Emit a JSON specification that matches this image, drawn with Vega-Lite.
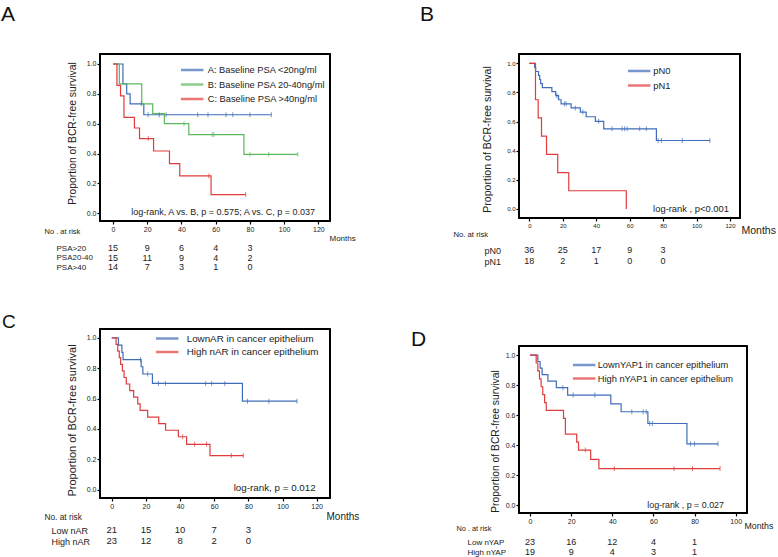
{
"$schema": "https://vega.github.io/schema/vega-lite/v6.json",
"background": "white",
"padding": {"left": 0, "top": 3, "right": 0, "bottom": 0},
"config": {
  "font": "Liberation Sans",
  "view": {"stroke": "#000", "strokeWidth": 1.5},
  "axis": {"grid": false, "domain": false, "tickColor": "#000", "tickWidth": 1.2, "labelColor": "#222", "titleColor": "#222", "titleFontWeight": "normal", "labelFlush": false, "labelOverlap": false, "tickCount": 20},
  "title": {"color": "#111", "fontWeight": "normal", "font": "Liberation Sans"},
  "legend": {"orient": "none", "title": null, "symbolType": "M-1,0H5", "symbolSize": 56, "symbolStrokeWidth": 2.5, "labelColor": "#222"},
  "text": {"color": "#222"}
},
"datasets": {
  "A": [
    {"g":"A: Baseline PSA <20ng/ml","t":0,"s":1,"c":0},
    {"g":"A: Baseline PSA <20ng/ml","t":5.8,"s":0.867,"c":0},
    {"g":"A: Baseline PSA <20ng/ml","t":8,"s":0.8,"c":0},
    {"g":"A: Baseline PSA <20ng/ml","t":10,"s":0.733,"c":0},
    {"g":"A: Baseline PSA <20ng/ml","t":16.5,"s":0.733,"c":1},
    {"g":"A: Baseline PSA <20ng/ml","t":18,"s":0.66,"c":0},
    {"g":"A: Baseline PSA <20ng/ml","t":20.5,"s":0.66,"c":1},
    {"g":"A: Baseline PSA <20ng/ml","t":27,"s":0.66,"c":1},
    {"g":"A: Baseline PSA <20ng/ml","t":31,"s":0.66,"c":1},
    {"g":"A: Baseline PSA <20ng/ml","t":49.5,"s":0.66,"c":1},
    {"g":"A: Baseline PSA <20ng/ml","t":55.5,"s":0.66,"c":1},
    {"g":"A: Baseline PSA <20ng/ml","t":66,"s":0.66,"c":1},
    {"g":"A: Baseline PSA <20ng/ml","t":70,"s":0.66,"c":1},
    {"g":"A: Baseline PSA <20ng/ml","t":80,"s":0.66,"c":1},
    {"g":"A: Baseline PSA <20ng/ml","t":92.5,"s":0.66,"c":1},
    {"g":"B: Baseline PSA 20-40ng/ml","t":0,"s":1,"c":0},
    {"g":"B: Baseline PSA 20-40ng/ml","t":3.7,"s":0.867,"c":0},
    {"g":"B: Baseline PSA 20-40ng/ml","t":16.8,"s":0.733,"c":0},
    {"g":"B: Baseline PSA 20-40ng/ml","t":23.2,"s":0.667,"c":0},
    {"g":"B: Baseline PSA 20-40ng/ml","t":30,"s":0.6,"c":0},
    {"g":"B: Baseline PSA 20-40ng/ml","t":41.5,"s":0.6,"c":1},
    {"g":"B: Baseline PSA 20-40ng/ml","t":44.3,"s":0.527,"c":0},
    {"g":"B: Baseline PSA 20-40ng/ml","t":58,"s":0.527,"c":1},
    {"g":"B: Baseline PSA 20-40ng/ml","t":59,"s":0.527,"c":1},
    {"g":"B: Baseline PSA 20-40ng/ml","t":76.5,"s":0.395,"c":0},
    {"g":"B: Baseline PSA 20-40ng/ml","t":80,"s":0.395,"c":1},
    {"g":"B: Baseline PSA 20-40ng/ml","t":91,"s":0.395,"c":1},
    {"g":"B: Baseline PSA 20-40ng/ml","t":108,"s":0.395,"c":1},
    {"g":"C: Baseline PSA >40ng/ml","t":0,"s":1,"c":0},
    {"g":"C: Baseline PSA >40ng/ml","t":2.3,"s":0.857,"c":0},
    {"g":"C: Baseline PSA >40ng/ml","t":4.4,"s":0.786,"c":0},
    {"g":"C: Baseline PSA >40ng/ml","t":6.4,"s":0.643,"c":0},
    {"g":"C: Baseline PSA >40ng/ml","t":12.5,"s":0.571,"c":0},
    {"g":"C: Baseline PSA >40ng/ml","t":15.5,"s":0.5,"c":0},
    {"g":"C: Baseline PSA >40ng/ml","t":20.6,"s":0.5,"c":1},
    {"g":"C: Baseline PSA >40ng/ml","t":23.7,"s":0.417,"c":0},
    {"g":"C: Baseline PSA >40ng/ml","t":33,"s":0.333,"c":0},
    {"g":"C: Baseline PSA >40ng/ml","t":39,"s":0.25,"c":0},
    {"g":"C: Baseline PSA >40ng/ml","t":56,"s":0.25,"c":1},
    {"g":"C: Baseline PSA >40ng/ml","t":57.3,"s":0.125,"c":0},
    {"g":"C: Baseline PSA >40ng/ml","t":77.5,"s":0.125,"c":1}
  ],
  "B": [
    {"g":"pN0","t":0,"s":1,"c":0},
    {"g":"pN0","t":3.2,"s":0.972,"c":0},
    {"g":"pN0","t":3.8,"s":0.944,"c":0},
    {"g":"pN0","t":5.5,"s":0.917,"c":0},
    {"g":"pN0","t":6.2,"s":0.889,"c":0},
    {"g":"pN0","t":6.8,"s":0.861,"c":0},
    {"g":"pN0","t":7.8,"s":0.833,"c":0},
    {"g":"pN0","t":13.5,"s":0.806,"c":0},
    {"g":"pN0","t":15.8,"s":0.778,"c":0},
    {"g":"pN0","t":16.5,"s":0.778,"c":1},
    {"g":"pN0","t":17.5,"s":0.75,"c":0},
    {"g":"pN0","t":19,"s":0.722,"c":0},
    {"g":"pN0","t":21,"s":0.722,"c":1},
    {"g":"pN0","t":22,"s":0.722,"c":1},
    {"g":"pN0","t":25,"s":0.694,"c":0},
    {"g":"pN0","t":27.5,"s":0.694,"c":1},
    {"g":"pN0","t":30.5,"s":0.665,"c":0},
    {"g":"pN0","t":32,"s":0.665,"c":1},
    {"g":"pN0","t":34,"s":0.633,"c":0},
    {"g":"pN0","t":39.5,"s":0.602,"c":0},
    {"g":"pN0","t":41.5,"s":0.602,"c":1},
    {"g":"pN0","t":44.5,"s":0.55,"c":0},
    {"g":"pN0","t":49.5,"s":0.55,"c":1},
    {"g":"pN0","t":55.5,"s":0.55,"c":1},
    {"g":"pN0","t":57,"s":0.55,"c":1},
    {"g":"pN0","t":58.5,"s":0.55,"c":1},
    {"g":"pN0","t":66,"s":0.55,"c":1},
    {"g":"pN0","t":70,"s":0.55,"c":1},
    {"g":"pN0","t":76,"s":0.47,"c":0},
    {"g":"pN0","t":77,"s":0.47,"c":1},
    {"g":"pN0","t":79,"s":0.47,"c":1},
    {"g":"pN0","t":91.5,"s":0.47,"c":1},
    {"g":"pN0","t":108,"s":0.47,"c":1},
    {"g":"pN1","t":0,"s":1,"c":0},
    {"g":"pN1","t":3.7,"s":0.75,"c":0},
    {"g":"pN1","t":5.3,"s":0.625,"c":0},
    {"g":"pN1","t":7.3,"s":0.5,"c":0},
    {"g":"pN1","t":10.3,"s":0.375,"c":0},
    {"g":"pN1","t":17,"s":0.25,"c":0},
    {"g":"pN1","t":23.6,"s":0.125,"c":0},
    {"g":"pN1","t":58,"s":0,"c":0}
  ],
  "C": [
    {"g":"LownAR in cancer epithelium","t":0,"s":1,"c":0},
    {"g":"LownAR in cancer epithelium","t":3.9,"s":0.952,"c":0},
    {"g":"LownAR in cancer epithelium","t":5.9,"s":0.905,"c":0},
    {"g":"LownAR in cancer epithelium","t":6.6,"s":0.857,"c":0},
    {"g":"LownAR in cancer epithelium","t":16.8,"s":0.857,"c":1},
    {"g":"LownAR in cancer epithelium","t":17.2,"s":0.81,"c":0},
    {"g":"LownAR in cancer epithelium","t":18.2,"s":0.762,"c":0},
    {"g":"LownAR in cancer epithelium","t":21,"s":0.762,"c":1},
    {"g":"LownAR in cancer epithelium","t":23.8,"s":0.7,"c":0},
    {"g":"LownAR in cancer epithelium","t":27.3,"s":0.7,"c":1},
    {"g":"LownAR in cancer epithelium","t":31.4,"s":0.7,"c":1},
    {"g":"LownAR in cancer epithelium","t":55,"s":0.7,"c":1},
    {"g":"LownAR in cancer epithelium","t":58.5,"s":0.7,"c":1},
    {"g":"LownAR in cancer epithelium","t":66.2,"s":0.7,"c":1},
    {"g":"LownAR in cancer epithelium","t":76.5,"s":0.583,"c":0},
    {"g":"LownAR in cancer epithelium","t":79.5,"s":0.583,"c":1},
    {"g":"LownAR in cancer epithelium","t":92,"s":0.583,"c":1},
    {"g":"LownAR in cancer epithelium","t":108.5,"s":0.583,"c":1},
    {"g":"High nAR in cancer epithelium","t":0,"s":1,"c":0},
    {"g":"High nAR in cancer epithelium","t":2.5,"s":0.957,"c":0},
    {"g":"High nAR in cancer epithelium","t":3.5,"s":0.913,"c":0},
    {"g":"High nAR in cancer epithelium","t":4.4,"s":0.87,"c":0},
    {"g":"High nAR in cancer epithelium","t":5.2,"s":0.826,"c":0},
    {"g":"High nAR in cancer epithelium","t":6.2,"s":0.783,"c":0},
    {"g":"High nAR in cancer epithelium","t":7.2,"s":0.739,"c":0},
    {"g":"High nAR in cancer epithelium","t":8.5,"s":0.696,"c":0},
    {"g":"High nAR in cancer epithelium","t":10.5,"s":0.652,"c":0},
    {"g":"High nAR in cancer epithelium","t":12.8,"s":0.609,"c":0},
    {"g":"High nAR in cancer epithelium","t":15.2,"s":0.565,"c":0},
    {"g":"High nAR in cancer epithelium","t":16.6,"s":0.522,"c":0},
    {"g":"High nAR in cancer epithelium","t":21,"s":0.478,"c":0},
    {"g":"High nAR in cancer epithelium","t":27.5,"s":0.435,"c":0},
    {"g":"High nAR in cancer epithelium","t":31.5,"s":0.391,"c":0},
    {"g":"High nAR in cancer epithelium","t":39,"s":0.348,"c":0},
    {"g":"High nAR in cancer epithelium","t":41.5,"s":0.348,"c":1},
    {"g":"High nAR in cancer epithelium","t":43.8,"s":0.298,"c":0},
    {"g":"High nAR in cancer epithelium","t":48.5,"s":0.298,"c":1},
    {"g":"High nAR in cancer epithelium","t":55.5,"s":0.298,"c":1},
    {"g":"High nAR in cancer epithelium","t":57.5,"s":0.224,"c":0},
    {"g":"High nAR in cancer epithelium","t":70,"s":0.224,"c":1},
    {"g":"High nAR in cancer epithelium","t":77,"s":0.224,"c":1}
  ],
  "D": [
    {"g":"LownYAP1 in cancer epithelium","t":0,"s":1,"c":0},
    {"g":"LownYAP1 in cancer epithelium","t":3.8,"s":0.957,"c":0},
    {"g":"LownYAP1 in cancer epithelium","t":4.9,"s":0.913,"c":0},
    {"g":"LownYAP1 in cancer epithelium","t":5.9,"s":0.87,"c":0},
    {"g":"LownYAP1 in cancer epithelium","t":8.7,"s":0.826,"c":0},
    {"g":"LownYAP1 in cancer epithelium","t":12.8,"s":0.783,"c":0},
    {"g":"LownYAP1 in cancer epithelium","t":16,"s":0.783,"c":1},
    {"g":"LownYAP1 in cancer epithelium","t":18.3,"s":0.734,"c":0},
    {"g":"LownYAP1 in cancer epithelium","t":21,"s":0.734,"c":1},
    {"g":"LownYAP1 in cancer epithelium","t":31.5,"s":0.734,"c":1},
    {"g":"LownYAP1 in cancer epithelium","t":39.3,"s":0.675,"c":0},
    {"g":"LownYAP1 in cancer epithelium","t":44.3,"s":0.623,"c":0},
    {"g":"LownYAP1 in cancer epithelium","t":49.5,"s":0.623,"c":1},
    {"g":"LownYAP1 in cancer epithelium","t":55,"s":0.623,"c":1},
    {"g":"LownYAP1 in cancer epithelium","t":56.5,"s":0.623,"c":1},
    {"g":"LownYAP1 in cancer epithelium","t":57.3,"s":0.545,"c":0},
    {"g":"LownYAP1 in cancer epithelium","t":58.2,"s":0.545,"c":1},
    {"g":"LownYAP1 in cancer epithelium","t":59.5,"s":0.545,"c":1},
    {"g":"LownYAP1 in cancer epithelium","t":76.3,"s":0.41,"c":0},
    {"g":"LownYAP1 in cancer epithelium","t":78,"s":0.41,"c":1},
    {"g":"LownYAP1 in cancer epithelium","t":80,"s":0.41,"c":1},
    {"g":"LownYAP1 in cancer epithelium","t":91.4,"s":0.41,"c":1},
    {"g":"High nYAP1 in cancer epithelium","t":0,"s":1,"c":0},
    {"g":"High nYAP1 in cancer epithelium","t":3,"s":0.947,"c":0},
    {"g":"High nYAP1 in cancer epithelium","t":3.8,"s":0.895,"c":0},
    {"g":"High nYAP1 in cancer epithelium","t":4.6,"s":0.842,"c":0},
    {"g":"High nYAP1 in cancer epithelium","t":5.4,"s":0.789,"c":0},
    {"g":"High nYAP1 in cancer epithelium","t":6.2,"s":0.737,"c":0},
    {"g":"High nYAP1 in cancer epithelium","t":7.1,"s":0.684,"c":0},
    {"g":"High nYAP1 in cancer epithelium","t":7.9,"s":0.632,"c":0},
    {"g":"High nYAP1 in cancer epithelium","t":16.3,"s":0.579,"c":0},
    {"g":"High nYAP1 in cancer epithelium","t":17.2,"s":0.474,"c":0},
    {"g":"High nYAP1 in cancer epithelium","t":22.7,"s":0.421,"c":0},
    {"g":"High nYAP1 in cancer epithelium","t":23.6,"s":0.368,"c":0},
    {"g":"High nYAP1 in cancer epithelium","t":26.9,"s":0.368,"c":1},
    {"g":"High nYAP1 in cancer epithelium","t":29.5,"s":0.307,"c":0},
    {"g":"High nYAP1 in cancer epithelium","t":33.5,"s":0.245,"c":0},
    {"g":"High nYAP1 in cancer epithelium","t":41,"s":0.245,"c":1},
    {"g":"High nYAP1 in cancer epithelium","t":70,"s":0.245,"c":1},
    {"g":"High nYAP1 in cancer epithelium","t":79,"s":0.245,"c":1},
    {"g":"High nYAP1 in cancer epithelium","t":92.4,"s":0.245,"c":1}
  ],
  "Ar": [
    {"g":"PSA>20","t":0,"n":15},{"g":"PSA>20","t":20,"n":9},{"g":"PSA>20","t":40,"n":6},{"g":"PSA>20","t":60,"n":4},{"g":"PSA>20","t":80,"n":3},
    {"g":"PSA20-40","t":0,"n":15},{"g":"PSA20-40","t":20,"n":11},{"g":"PSA20-40","t":40,"n":9},{"g":"PSA20-40","t":60,"n":4},{"g":"PSA20-40","t":80,"n":2},
    {"g":"PSA>40","t":0,"n":14},{"g":"PSA>40","t":20,"n":7},{"g":"PSA>40","t":40,"n":3},{"g":"PSA>40","t":60,"n":1},{"g":"PSA>40","t":80,"n":0}
  ],
  "Br": [
    {"g":"pN0","t":0,"n":36},{"g":"pN0","t":20,"n":25},{"g":"pN0","t":40,"n":17},{"g":"pN0","t":60,"n":9},{"g":"pN0","t":80,"n":3},
    {"g":"pN1","t":0,"n":18},{"g":"pN1","t":20,"n":2},{"g":"pN1","t":40,"n":1},{"g":"pN1","t":60,"n":0},{"g":"pN1","t":80,"n":0}
  ],
  "Cr": [
    {"g":"Low nAR","t":0,"n":21},{"g":"Low nAR","t":20,"n":15},{"g":"Low nAR","t":40,"n":10},{"g":"Low nAR","t":60,"n":7},{"g":"Low nAR","t":80,"n":3},
    {"g":"High nAR","t":0,"n":23},{"g":"High nAR","t":20,"n":12},{"g":"High nAR","t":40,"n":8},{"g":"High nAR","t":60,"n":2},{"g":"High nAR","t":80,"n":0}
  ],
  "Dr": [
    {"g":"Low nYAP","t":0,"n":23},{"g":"Low nYAP","t":20,"n":16},{"g":"Low nYAP","t":40,"n":12},{"g":"Low nYAP","t":60,"n":4},{"g":"Low nYAP","t":80,"n":1},
    {"g":"High nYAP","t":0,"n":19},{"g":"High nYAP","t":20,"n":9},{"g":"High nYAP","t":40,"n":4},{"g":"High nYAP","t":60,"n":3},{"g":"High nYAP","t":80,"n":1}
  ]
},
"spacing": 50,
"resolve": {"scale": {"x": "independent", "y": "independent", "color": "independent"}},
"hconcat": [
  {
    "spacing": 0, "bounds": "flush",
    "resolve": {"scale": {"x": "independent", "y": "independent", "color": "independent"}},
    "vconcat": [
      {
        "width": 230, "height": 167,
        "view": {"stroke": "#000", "strokeWidth": 1.5},
        "title": {"text": "A", "anchor": "start", "frame": "group", "fontSize": 21, "baseline": "alphabetic", "offset": 11, "dx": -99},
        "data": {"name": "A"},
        "layer": [
          {"data": {"values": [{"f": 1}]}, "mark": {"type": "tick", "orient": "vertical", "size": 168, "thickness": 2, "color": "#000", "opacity": 1},
           "encoding": {"x": {"datum": -7.6}, "y": {"datum": 0.5075}}},
          {"data": {"values": [{"f": 1}]}, "mark": {"type": "tick", "orient": "vertical", "size": 168, "thickness": 2, "color": "#000", "opacity": 1},
           "encoding": {"x": {"datum": 126.8}, "y": {"datum": 0.5075}}},
          {"data": {"values": [{"f": 1}]}, "mark": {"type": "tick", "orient": "horizontal", "size": 231, "thickness": 2, "color": "#000", "opacity": 1},
           "encoding": {"x": {"datum": 59.6}, "y": {"datum": -0.052}}},
          {"data": {"values": [{"f": 1}]}, "mark": {"type": "tick", "orient": "horizontal", "size": 231, "thickness": 2, "color": "#000", "opacity": 1},
           "encoding": {"x": {"datum": 59.6}, "y": {"datum": 1.067}}},
          {"mark": {"type": "line", "interpolate": "step-after", "strokeWidth": 1.2},
           "encoding": {
             "x": {"field": "t", "type": "quantitative", "scale": {"domain": [-7.6, 126.8], "nice": false, "zero": false},
                   "axis": {"values": [0,20,40,60,80,100,120], "tickCount": 20, "labelOverlap": false, "labelFontSize": 7, "tickSize": 3, "labelPadding": 1, "title": "Months", "titleFontSize": 8, "titleAlign": "left", "titleBaseline": "middle", "titleAngle": 0, "titleX": 229, "titleY": 17}},
             "y": {"field": "s", "type": "quantitative", "scale": {"domain": [-0.052, 1.067], "nice": false, "zero": false},
                   "axis": {"values": [0,0.2,0.4,0.6,0.8,1], "tickCount": 20, "labelOverlap": false, "format": ".1f", "labelFontSize": 7, "tickSize": 3, "labelPadding": 1, "title": "Proportion of BCR-free survival", "titleFontSize": 10.3, "titleAlign": "center", "titleBaseline": "middle", "titleAngle": 270, "titleX": -28, "titleY": 79}},
             "color": {"field": "g", "type": "nominal",
                       "scale": {"domain": ["A: Baseline PSA <20ng/ml", "B: Baseline PSA 20-40ng/ml", "C: Baseline PSA >40ng/ml"], "range": ["#3f6db8", "#5cb85c", "#e03c3c"]},
                       "legend": {"legendX": 79.7, "legendY": 11, "labelFontSize": 9.3, "labelOffset": 18, "rowPadding": 3.5}}
           }},
          {"transform": [{"filter": "datum.c == 1"}],
           "mark": {"type": "tick", "orient": "vertical", "size": 5, "thickness": 1},
           "encoding": {
             "x": {"field": "t", "type": "quantitative"},
             "y": {"field": "s", "type": "quantitative"},
             "color": {"field": "g", "type": "nominal"}
           }},
          {"data": {"values": [{"label": "log-rank, A vs. B, p = 0.575; A vs. C, p = 0.037"}]},
           "mark": {"type": "text", "align": "right", "baseline": "middle", "fontSize": 9},
           "encoding": {"x": {"datum": 118}, "y": {"datum": 0.011}, "text": {"field": "label"}}}
        ]
      },
      {
        "width": 230, "height": 108, "view": {"stroke": null},
        "data": {"name": "Ar"},
        "mark": {"type": "text", "fontSize": 9},
        "encoding": {
          "x": {"field": "t", "type": "quantitative", "scale": {"domain": [-7.6, 126.8], "nice": false, "zero": false}, "axis": null},
          "y": {"field": "g", "type": "nominal", "sort": ["PSA>20", "PSA20-40", "PSA>40"], "scale": {"type": "point", "range": [27, 46], "padding": 0},
                "axis": {"title": "No . at risk", "titleAngle": 0, "titleX": -56, "titleY": 10, "titleAlign": "left", "titleBaseline": "middle", "titleFontSize": 7.5, "labelAlign": "left", "labelPadding": 44, "labelFontSize": 8, "ticks": false, "domain": false}},
          "text": {"field": "n", "type": "quantitative"}
        }
      },
      {
        "width": 230, "height": 169,
        "view": {"stroke": "#000", "strokeWidth": 1.5},
        "title": {"text": "C", "anchor": "start", "frame": "group", "fontSize": 19, "baseline": "alphabetic", "offset": -19, "dx": -98},
        "data": {"name": "C"},
        "layer": [
          {"data": {"values": [{"f": 1}]}, "mark": {"type": "tick", "orient": "vertical", "size": 170, "thickness": 2, "color": "#000", "opacity": 1},
           "encoding": {"x": {"datum": -6.9}, "y": {"datum": 0.5015}}},
          {"data": {"values": [{"f": 1}]}, "mark": {"type": "tick", "orient": "vertical", "size": 170, "thickness": 2, "color": "#000", "opacity": 1},
           "encoding": {"x": {"datum": 127.8}, "y": {"datum": 0.5015}}},
          {"data": {"values": [{"f": 1}]}, "mark": {"type": "tick", "orient": "horizontal", "size": 231, "thickness": 2, "color": "#000", "opacity": 1},
           "encoding": {"x": {"datum": 60.45}, "y": {"datum": -0.056}}},
          {"data": {"values": [{"f": 1}]}, "mark": {"type": "tick", "orient": "horizontal", "size": 231, "thickness": 2, "color": "#000", "opacity": 1},
           "encoding": {"x": {"datum": 60.45}, "y": {"datum": 1.059}}},
          {"mark": {"type": "line", "interpolate": "step-after", "strokeWidth": 1.2},
           "encoding": {
             "x": {"field": "t", "type": "quantitative", "scale": {"domain": [-6.9, 127.8], "nice": false, "zero": false},
                   "axis": {"values": [0,20,40,60,80,100,120], "tickCount": 20, "labelOverlap": false, "labelFontSize": 7, "tickSize": 3, "labelPadding": 1, "title": "Months", "titleFontSize": 10, "titleAlign": "left", "titleBaseline": "middle", "titleAngle": 0, "titleX": 226, "titleY": 18}},
             "y": {"field": "s", "type": "quantitative", "scale": {"domain": [-0.056, 1.059], "nice": false, "zero": false},
                   "axis": {"values": [0,0.2,0.4,0.6,0.8,1], "tickCount": 20, "labelOverlap": false, "format": ".1f", "labelFontSize": 7, "tickSize": 3, "labelPadding": 1, "title": "Proportion of BCR-free survival", "titleFontSize": 11, "titleAlign": "center", "titleBaseline": "middle", "titleAngle": 270, "titleX": -28, "titleY": 91}},
             "color": {"field": "g", "type": "nominal",
                       "scale": {"domain": ["LownAR in cancer epithelium", "High nAR in cancer epithelium"], "range": ["#3f6db8", "#e03c3c"]},
                       "legend": {"legendX": 54.7, "legendY": 4.5, "labelFontSize": 9.8, "labelOffset": 22, "rowPadding": 3.5}}
           }},
          {"transform": [{"filter": "datum.c == 1"}],
           "mark": {"type": "tick", "orient": "vertical", "size": 5, "thickness": 1},
           "encoding": {
             "x": {"field": "t", "type": "quantitative"},
             "y": {"field": "s", "type": "quantitative"},
             "color": {"field": "g", "type": "nominal"}
           }},
          {"data": {"values": [{"label": "log-rank, p = 0.012"}]},
           "mark": {"type": "text", "align": "right", "baseline": "middle", "fontSize": 9.8},
           "encoding": {"x": {"datum": 119.4}, "y": {"datum": 0.007}, "text": {"field": "label"}}}
        ]
      },
      {
        "width": 230, "height": 50, "view": {"stroke": null},
        "data": {"name": "Cr"},
        "mark": {"type": "text", "fontSize": 9.5},
        "encoding": {
          "x": {"field": "t", "type": "quantitative", "scale": {"domain": [-6.9, 127.8], "nice": false, "zero": false}, "axis": null},
          "y": {"field": "g", "type": "nominal", "sort": ["Low nAR", "High nAR"], "scale": {"type": "point", "range": [32, 43], "padding": 0},
                "axis": {"title": "No. at risk", "titleAngle": 0, "titleX": -56, "titleY": 19.7, "titleAlign": "left", "titleBaseline": "middle", "titleFontSize": 8.3, "labelAlign": "left", "labelPadding": 49, "labelFontSize": 9, "ticks": false, "domain": false}},
          "text": {"field": "n", "type": "quantitative"}
        }
      }
    ]
  },
  {
    "spacing": 0, "bounds": "flush",
    "resolve": {"scale": {"x": "independent", "y": "independent", "color": "independent"}},
    "vconcat": [
      {
        "width": 221, "height": 164,
        "view": {"stroke": "#000", "strokeWidth": 1.5},
        "title": {"text": "B", "anchor": "start", "frame": "group", "fontSize": 21, "baseline": "alphabetic", "offset": 11, "dx": -99},
        "data": {"name": "B"},
        "layer": [
          {"data": {"values": [{"f": 1}]}, "mark": {"type": "tick", "orient": "vertical", "size": 165, "thickness": 2, "color": "#000", "opacity": 1},
           "encoding": {"x": {"datum": -6.16}, "y": {"datum": 0.501}}},
          {"data": {"values": [{"f": 1}]}, "mark": {"type": "tick", "orient": "vertical", "size": 165, "thickness": 2, "color": "#000", "opacity": 1},
           "encoding": {"x": {"datum": 126.0}, "y": {"datum": 0.501}}},
          {"data": {"values": [{"f": 1}]}, "mark": {"type": "tick", "orient": "horizontal", "size": 222, "thickness": 2, "color": "#000", "opacity": 1},
           "encoding": {"x": {"datum": 59.92}, "y": {"datum": -0.062}}},
          {"data": {"values": [{"f": 1}]}, "mark": {"type": "tick", "orient": "horizontal", "size": 222, "thickness": 2, "color": "#000", "opacity": 1},
           "encoding": {"x": {"datum": 59.92}, "y": {"datum": 1.064}}},
          {"mark": {"type": "line", "interpolate": "step-after", "strokeWidth": 1.2},
           "encoding": {
             "x": {"field": "t", "type": "quantitative", "scale": {"domain": [-6.16, 126.0], "nice": false, "zero": false},
                   "axis": {"values": [0,20,40,60,80,100,120], "tickCount": 20, "labelOverlap": false, "labelFontSize": 6, "tickSize": 3, "labelPadding": 1, "title": "Months", "titleFontSize": 10.5, "titleAlign": "left", "titleBaseline": "middle", "titleAngle": 0, "titleX": 222, "titleY": 12}},
             "y": {"field": "s", "type": "quantitative", "scale": {"domain": [-0.062, 1.064], "nice": false, "zero": false},
                   "axis": {"values": [0,0.2,0.4,0.6,0.8,1], "tickCount": 20, "labelOverlap": false, "format": ".1f", "labelFontSize": 6, "tickSize": 3, "labelPadding": 1, "title": "Proportion of BCR-free survival", "titleFontSize": 10.6, "titleAlign": "center", "titleBaseline": "middle", "titleAngle": 270, "titleX": -31.3, "titleY": 85}},
             "color": {"field": "g", "type": "nominal",
                       "scale": {"domain": ["pN0", "pN1"], "range": ["#3f6db8", "#e03c3c"]},
                       "legend": {"legendX": 107.7, "legendY": 12, "labelFontSize": 9.4, "labelOffset": 16.5, "rowPadding": 4.5}}
           }},
          {"transform": [{"filter": "datum.c == 1"}],
           "mark": {"type": "tick", "orient": "vertical", "size": 5, "thickness": 1},
           "encoding": {
             "x": {"field": "t", "type": "quantitative"},
             "y": {"field": "s", "type": "quantitative"},
             "color": {"field": "g", "type": "nominal"}
           }},
          {"data": {"values": [{"label": "log-rank , p<0.001"}]},
           "mark": {"type": "text", "align": "right", "baseline": "middle", "fontSize": 9.4},
           "encoding": {"x": {"datum": 119.4}, "y": {"datum": 0.0}, "text": {"field": "label"}}}
        ]
      },
      {
        "width": 221, "height": 128, "view": {"stroke": null},
        "data": {"name": "Br"},
        "mark": {"type": "text", "fontSize": 9},
        "encoding": {
          "x": {"field": "t", "type": "quantitative", "scale": {"domain": [-6.16, 126.0], "nice": false, "zero": false}, "axis": null},
          "y": {"field": "g", "type": "nominal", "sort": ["pN0", "pN1"], "scale": {"type": "point", "range": [32, 43], "padding": 0},
                "axis": {"title": "No. at risk", "titleAngle": 0, "titleX": -66, "titleY": 16, "titleAlign": "left", "titleBaseline": "middle", "titleFontSize": 7.7, "labelAlign": "left", "labelPadding": 35, "labelFontSize": 9, "ticks": false, "domain": false}},
          "text": {"field": "n", "type": "quantitative"}
        }
      },
      {
        "width": 228, "height": 167,
        "view": {"stroke": "#000", "strokeWidth": 1.5},
        "title": {"text": "D", "anchor": "start", "frame": "group", "fontSize": 21, "baseline": "alphabetic", "offset": -22, "dx": -108},
        "data": {"name": "D"},
        "layer": [
          {"data": {"values": [{"f": 1}]}, "mark": {"type": "tick", "orient": "vertical", "size": 168, "thickness": 2, "color": "#000", "opacity": 1},
           "encoding": {"x": {"datum": -5.35}, "y": {"datum": 0.505}}},
          {"data": {"values": [{"f": 1}]}, "mark": {"type": "tick", "orient": "vertical", "size": 168, "thickness": 2, "color": "#000", "opacity": 1},
           "encoding": {"x": {"datum": 105.5}, "y": {"datum": 0.505}}},
          {"data": {"values": [{"f": 1}]}, "mark": {"type": "tick", "orient": "horizontal", "size": 229, "thickness": 2, "color": "#000", "opacity": 1},
           "encoding": {"x": {"datum": 50.075}, "y": {"datum": -0.05}}},
          {"data": {"values": [{"f": 1}]}, "mark": {"type": "tick", "orient": "horizontal", "size": 229, "thickness": 2, "color": "#000", "opacity": 1},
           "encoding": {"x": {"datum": 50.075}, "y": {"datum": 1.06}}},
          {"mark": {"type": "line", "interpolate": "step-after", "strokeWidth": 1.2},
           "encoding": {
             "x": {"field": "t", "type": "quantitative", "scale": {"domain": [-5.35, 105.5], "nice": false, "zero": false},
                   "axis": {"values": [0,20,40,60,80,100], "tickCount": 20, "labelOverlap": false, "labelFontSize": 7, "tickSize": 3, "labelPadding": 1, "title": "Months", "titleFontSize": 8.8, "titleAlign": "left", "titleBaseline": "middle", "titleAngle": 0, "titleX": 225, "titleY": 12}},
             "y": {"field": "s", "type": "quantitative", "scale": {"domain": [-0.05, 1.06], "nice": false, "zero": false},
                   "axis": {"values": [0,0.2,0.4,0.6,0.8,1], "tickCount": 20, "labelOverlap": false, "format": ".1f", "labelFontSize": 7, "tickSize": 3, "labelPadding": 1, "title": "Proportion of BCR-free survival", "titleFontSize": 10.3, "titleAlign": "center", "titleBaseline": "middle", "titleAngle": 270, "titleX": -24, "titleY": 95}},
             "color": {"field": "g", "type": "nominal",
                       "scale": {"domain": ["LownYAP1 in cancer epithelium", "High nYAP1 in cancer epithelium"], "range": ["#3f6db8", "#e03c3c"]},
                       "legend": {"legendX": 52.7, "legendY": 14, "labelFontSize": 9.3, "labelOffset": 16, "rowPadding": 2.5}}
           }},
          {"transform": [{"filter": "datum.c == 1"}],
           "mark": {"type": "tick", "orient": "vertical", "size": 5, "thickness": 1},
           "encoding": {
             "x": {"field": "t", "type": "quantitative"},
             "y": {"field": "s", "type": "quantitative"},
             "color": {"field": "g", "type": "nominal"}
           }},
          {"data": {"values": [{"label": "log-rank , p = 0.027"}]},
           "mark": {"type": "text", "align": "right", "baseline": "middle", "fontSize": 8.9},
           "encoding": {"x": {"datum": 94.3}, "y": {"datum": 0.0}, "text": {"field": "label"}}}
        ]
      },
      {
        "width": 228, "height": 44, "view": {"stroke": null},
        "data": {"name": "Dr"},
        "mark": {"type": "text", "fontSize": 9},
        "encoding": {
          "x": {"field": "t", "type": "quantitative", "scale": {"domain": [-5.35, 105.5], "nice": false, "zero": false}, "axis": null},
          "y": {"field": "g", "type": "nominal", "sort": ["Low nYAP", "High nYAP"], "scale": {"type": "point", "range": [29, 39], "padding": 0},
                "axis": {"title": "No . at risk", "titleAngle": 0, "titleX": -63, "titleY": 15, "titleAlign": "left", "titleBaseline": "middle", "titleFontSize": 7.3, "labelAlign": "left", "labelPadding": 52, "labelFontSize": 8, "ticks": false, "domain": false}},
          "text": {"field": "n", "type": "quantitative"}
        }
      }
    ]
  }
]
}
